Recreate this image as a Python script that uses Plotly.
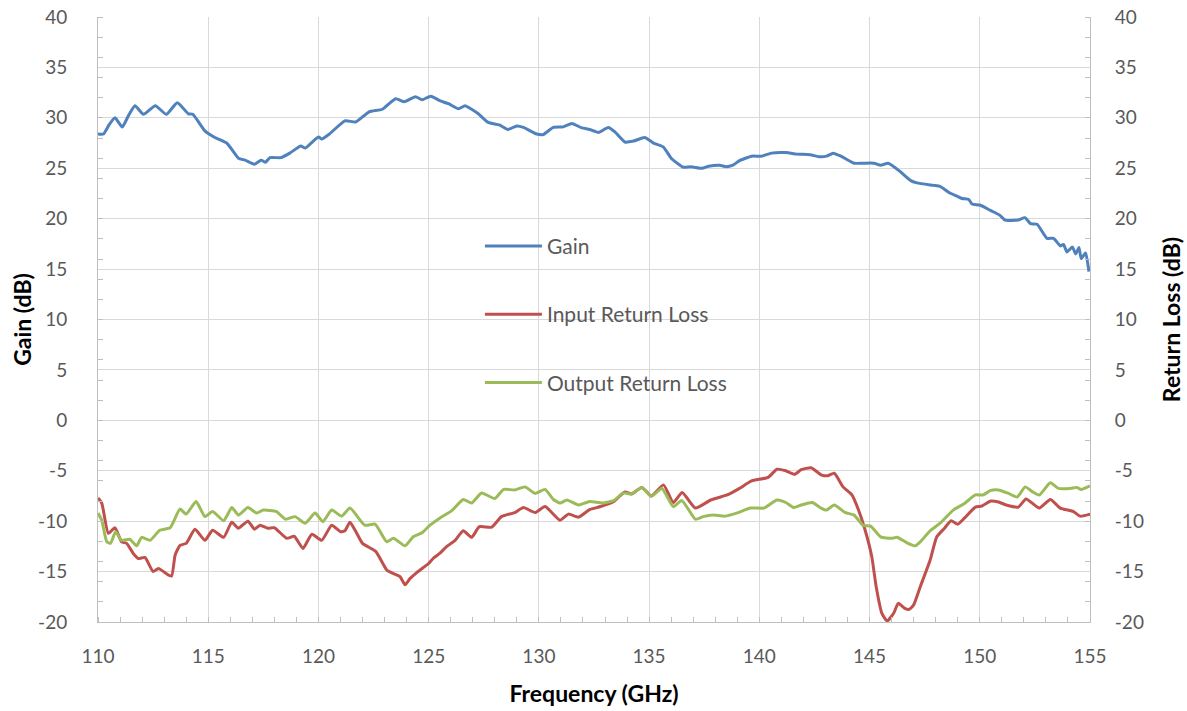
import plotly.graph_objects as go

gain_freq = [110.0,110.25,110.5,110.77,111.1,111.4,111.68,112.06,112.6,113.1,113.6,114.1,114.3,114.85,115.3,115.84,116.37,116.67,117.1,117.4,117.6,117.8,118.3,118.7,119.2,119.4,120.0,120.15,120.5,121.2,121.7,122.3,122.9,123.5,123.9,124.4,124.7,125.1,125.5,125.9,126.35,126.65,126.95,127.25,127.7,128.2,128.6,129.0,129.3,129.9,130.2,130.65,131.1,131.5,131.95,132.3,132.7,133.15,133.45,133.9,134.3,134.8,135.2,135.65,136.0,136.55,136.9,137.4,137.7,138.2,138.5,138.8,139.1,139.65,140.1,140.55,141.2,141.7,142.3,142.7,143.05,143.35,143.7,144.3,144.7,145.2,145.5,145.85,146.4,146.85,147.15,147.9,148.2,148.6,148.95,149.2,149.5,149.65,150.0,150.5,150.9,151.15,151.6,151.8,152.05,152.3,152.6,153.05,153.35,153.65,153.8,153.95,154.2,154.35,154.5,154.6,154.8,154.95]
gain_db = [28.4,28.4,29.3,30.0,29.1,30.3,31.2,30.35,31.2,30.35,31.5,30.4,30.35,28.7,28.05,27.5,26.0,25.8,25.4,25.8,25.6,26.05,26.05,26.5,27.2,27.0,28.1,27.9,28.4,29.7,29.6,30.6,30.85,31.9,31.6,32.1,31.8,32.15,31.7,31.4,30.9,31.2,30.85,30.4,29.55,29.3,28.85,29.2,29.05,28.4,28.35,29.05,29.1,29.45,29.0,28.85,28.55,29.05,28.6,27.6,27.7,28.05,27.5,27.1,26.0,25.1,25.15,25.0,25.2,25.3,25.15,25.3,25.75,26.2,26.2,26.5,26.55,26.4,26.35,26.15,26.2,26.5,26.2,25.5,25.5,25.5,25.3,25.5,24.65,23.8,23.55,23.3,23.2,22.6,22.25,22.0,21.9,21.45,21.35,20.8,20.35,19.85,19.85,19.9,20.1,19.5,19.45,18.05,18.05,17.3,17.45,16.7,17.2,16.5,17.15,16.05,16.6,14.75]

irl_freq = [110.0,110.17,110.47,110.77,111.07,111.3,111.6,111.83,112.13,112.5,112.74,113.2,113.34,113.5,113.72,114.0,114.4,114.85,115.2,115.7,116.07,116.37,116.8,117.1,117.35,117.7,118.0,118.56,118.9,119.3,119.7,120.15,120.6,121.0,121.2,121.43,121.7,122.0,122.6,123.1,123.4,123.7,123.93,124.15,124.46,124.76,125.0,125.2,125.5,125.8,126.2,126.57,126.95,127.3,127.86,128.3,128.9,129.3,129.83,130.28,130.96,131.34,131.8,132.3,132.8,133.4,133.9,134.2,134.67,135.1,135.65,136.1,136.5,137.1,137.8,138.6,139.1,139.65,140.4,140.8,141.2,141.6,141.9,142.35,142.8,143.1,143.4,143.8,144.2,144.5,144.8,145.1,145.3,145.56,145.8,146.1,146.3,146.6,146.8,147.0,147.3,147.75,148.05,148.4,148.7,149.0,149.3,149.8,150.1,150.5,150.85,151.2,151.75,152.1,152.7,153.2,153.65,154.25,154.55,155.0]
irl_db = [-7.7,-8.2,-11.2,-10.65,-12.05,-12.2,-13.2,-13.7,-13.6,-15.0,-14.7,-15.35,-15.45,-13.35,-12.4,-12.2,-10.8,-11.9,-10.9,-11.6,-10.1,-10.7,-10.0,-10.8,-10.4,-10.7,-10.65,-11.7,-11.5,-12.7,-11.3,-11.9,-10.4,-11.05,-10.95,-10.1,-11.05,-12.2,-13.0,-14.85,-15.2,-15.5,-16.3,-15.7,-15.1,-14.6,-14.2,-13.7,-13.2,-12.55,-11.9,-10.95,-11.6,-10.55,-10.6,-9.55,-9.15,-8.65,-9.15,-8.55,-9.9,-9.3,-9.6,-8.85,-8.55,-8.05,-7.1,-7.3,-6.65,-7.5,-6.4,-8.15,-7.15,-8.7,-7.9,-7.35,-6.75,-6.0,-5.65,-4.85,-5.0,-5.35,-4.9,-4.7,-5.4,-5.5,-5.25,-6.6,-7.4,-8.9,-10.9,-13.5,-16.5,-19.15,-19.9,-19.1,-18.15,-18.65,-18.75,-18.3,-16.5,-13.85,-11.55,-10.7,-9.95,-10.3,-9.7,-8.6,-8.5,-8.0,-8.1,-8.4,-8.6,-7.8,-8.7,-7.85,-8.7,-9.05,-9.5,-9.3]

orl_freq = [110.0,110.17,110.4,110.57,110.8,111.07,111.45,111.75,111.98,112.36,112.8,113.27,113.72,114.0,114.45,114.85,115.2,115.7,116.07,116.37,116.8,117.2,117.5,118.1,118.5,118.94,119.4,119.85,120.2,120.6,121.05,121.43,122.1,122.57,123.1,123.4,123.93,124.3,124.7,125.06,125.5,126.05,126.57,126.95,127.4,128.0,128.4,128.9,129.37,129.83,130.28,130.66,130.96,131.27,131.8,132.3,132.9,133.4,133.83,134.2,134.67,135.1,135.58,136.1,136.48,137.1,137.45,137.9,138.44,138.97,139.6,140.2,140.8,141.2,141.55,141.9,142.4,142.8,143.05,143.4,143.9,144.3,144.7,145.05,145.5,146.0,146.25,146.7,147.07,147.3,147.75,148.2,148.8,149.3,149.8,150.15,150.5,150.85,151.3,151.7,152.06,152.4,152.7,153.2,153.57,154.1,154.4,154.6,155.0]
orl_db = [-9.2,-9.9,-12.05,-12.2,-11.05,-11.9,-11.8,-12.45,-11.6,-11.9,-10.9,-10.65,-8.8,-9.3,-8.05,-9.55,-9.05,-9.95,-8.65,-9.4,-8.65,-9.2,-8.9,-9.05,-9.8,-9.55,-10.2,-9.2,-10.05,-8.9,-9.5,-8.7,-10.4,-10.3,-12.05,-11.7,-12.45,-11.55,-11.15,-10.4,-9.7,-8.95,-7.85,-8.2,-7.2,-7.75,-6.85,-6.9,-6.6,-7.25,-6.85,-7.85,-8.2,-7.9,-8.4,-8.05,-8.2,-7.95,-7.2,-7.3,-6.65,-7.55,-6.75,-8.55,-7.95,-9.8,-9.55,-9.4,-9.5,-9.2,-8.7,-8.7,-7.9,-8.15,-8.65,-8.4,-8.15,-8.7,-8.9,-8.4,-9.15,-9.4,-10.4,-10.5,-11.55,-11.7,-11.6,-12.15,-12.45,-12.05,-10.95,-10.2,-8.9,-8.25,-7.4,-7.4,-6.95,-6.9,-7.25,-7.6,-6.6,-7.1,-7.4,-6.2,-6.75,-6.75,-6.65,-6.85,-6.5]

series_names = ["Gain", "Input Return Loss", "Output Return Loss"]
series_colors = ["#4F81BD", "#C0504D", "#9BBB59"]

x_tick_vals = [110, 115, 120, 125, 130, 135, 140, 145, 150, 155]
x_tick_text = ["110", "115", "120", "125", "130", "135", "140", "145", "150", "155"]
y_tick_vals = [-20, -15, -10, -5, 0, 5, 10, 15, 20, 25, 30, 35, 40]
y_tick_text = ["-20", "-15", "-10", "-5", "0", "5", "10", "15", "20", "25", "30", "35", "40"]

FONT = "Lato, 'Liberation Sans', sans-serif"
TXT = "#595959"
TICKSIZE = 19
TITLESIZE = 23

fig = go.Figure()
fig.add_trace(go.Scatter(x=gain_freq, y=gain_db, name=series_names[0], mode="lines",
                         line=dict(color=series_colors[0], width=3, shape="spline", smoothing=0.5),
                         legendgroup="g1", yaxis="y"))
fig.add_trace(go.Scatter(x=irl_freq, y=irl_db, name=series_names[1], mode="lines",
                         line=dict(color=series_colors[1], width=3, shape="spline", smoothing=0.5),
                         legendgroup="g2", yaxis="y2"))
fig.add_trace(go.Scatter(x=orl_freq, y=orl_db, name=series_names[2], mode="lines",
                         line=dict(color=series_colors[2], width=3, shape="spline", smoothing=0.5),
                         legendgroup="g3", yaxis="y2"))

axis_common = dict(showline=True, linecolor="#BFBFBF", linewidth=1,
                   gridcolor="#D9D9D9", gridwidth=1, zeroline=False, automargin=False,
                   ticklabeloverflow="allow",
                   tickfont=dict(family=FONT, size=TICKSIZE, color=TXT), ticks="")

fig.update_layout(
    width=1187, height=711,
    paper_bgcolor="white", plot_bgcolor="white",
    margin=dict(l=98, r=97, t=17, b=89),
    font=dict(family=FONT, color=TXT),
    xaxis=dict(range=[110, 155], tickmode="array", tickvals=x_tick_vals, ticktext=x_tick_text,
               showgrid=True,
               minor=dict(dtick=1, tick0=110, ticks="inside", ticklen=5, tickcolor="#BFBFBF", showgrid=False),
               ticklabelstandoff=17,
               title=dict(text="<b>Frequency (GHz)</b>", font=dict(family=FONT, size=TITLESIZE, color="black"), standoff=20),
               **axis_common),
    yaxis=dict(range=[-20, 40], tickmode="array", tickvals=y_tick_vals, ticktext=y_tick_text,
               showgrid=True,
               minor=dict(dtick=2, tick0=0, ticks="inside", ticklen=5, tickcolor="#BFBFBF", showgrid=False),
               ticklabelstandoff=26,
               title=dict(text="<b>Gain (dB)</b>", font=dict(family=FONT, size=TITLESIZE, color="black"), standoff=0),
               **axis_common),
    yaxis2=dict(range=[-20, 40], tickmode="array", tickvals=y_tick_vals, ticktext=y_tick_text,
                overlaying="y", side="right", showgrid=False,
                minor=dict(dtick=2, tick0=0, ticks="inside", ticklen=5, tickcolor="#BFBFBF", showgrid=False),
                ticklabelstandoff=20,
                title=dict(text="<b>Return Loss (dB)</b>", font=dict(family=FONT, size=TITLESIZE, color="black"), standoff=20),
                **axis_common),
    legend=dict(x=0.385, y=0.655, xanchor="left", yanchor="top",
                bgcolor="rgba(0,0,0,0)", font=dict(family=FONT, size=21, color=TXT),
                tracegroupgap=38, itemwidth=57),
    showlegend=True,
)

# remove the browser's default 8px page margin so the figure fills the window exactly
fig.write_html("out.html", config={"displayModeBar": False},
               post_script="document.body.style.margin='0';")
